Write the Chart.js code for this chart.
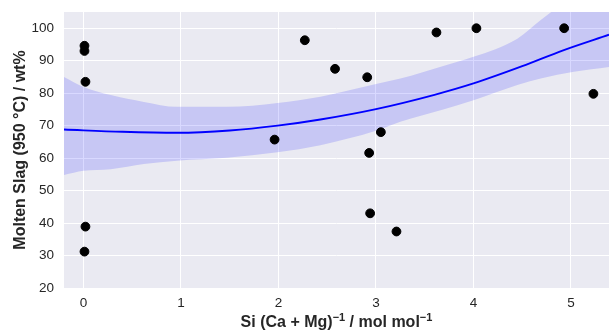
<!DOCTYPE html>
<html>
<head>
<meta charset="utf-8">
<script src="https://cdn.jsdelivr.net/npm/chart.js@4"></script>
<style>
  body { margin:0; background:#fff; }
  #wrap { width:609px; height:331px; }
</style>
</head>
<body>
<div id="wrap"><canvas id="chart" width="609" height="331"></canvas></div>
<script>
// molten slag vs Si/(Ca+Mg), quadratic fit with confidence band
const ptsX = [0.01, 0.01, 0.02, 0.02, 0.01, 1.96, 2.27, 2.58, 2.91, 2.93, 3.05, 2.94, 3.21, 3.62, 4.03, 4.93, 5.23];
const ptsY = [94.6, 93.0, 83.5, 38.9, 31.2, 65.7, 96.3, 87.5, 84.9, 61.6, 68.0, 43.0, 37.4, 98.7, 100.0, 100.0, 79.8];

const fitX = [-0.2, 0.4, 0.96, 1.5, 1.99, 2.43, 3.0, 3.6, 4.0, 4.5, 4.92, 5.39];
const fitY = [68.8, 68.1, 67.8, 68.5, 70.0, 71.9, 75.1, 79.5, 83.0, 88.3, 93.2, 98.0];

const bandX = [-0.2, 0.0, 0.28, 0.62, 0.96, 1.47, 1.99, 2.43, 3.0, 3.25, 3.69, 4.0, 4.45, 4.69, 5.03, 5.39];
const bandHi = [85.0, 81.9, 79.4, 77.3, 75.8, 75.8, 77.0, 78.9, 82.8, 84.5, 88.4, 91.2, 96.8, 102.5, 110, 115];
const bandLo = [54.8, 56.1, 56.6, 58.2, 59.2, 60.1, 61.8, 64.0, 68.4, 71.2, 75.0, 77.8, 82.5, 84.5, 86.6, 88.1];

const xTicks = [0, 1, 2, 3, 4, 5];
const yTicks = [20, 30, 40, 50, 60, 70, 80, 90, 100];

const xy = (xs, ys) => xs.map((x, i) => ({x: x, y: ys[i]}));

const family = '"Liberation Sans", Arial, sans-serif';

const bgPlugin = {
  id: 'bg',
  beforeDraw(c){
    const a = c.chartArea, ctx = c.ctx;
    ctx.save();
    ctx.fillStyle = '#eaeaf2';
    ctx.fillRect(a.left, a.top, a.right - a.left, a.bottom - a.top);
    ctx.restore();
  },
  afterDraw(c){
    // x axis title, with real superscripts, centred under the plot
    const ctx = c.ctx, a = c.chartArea;
    const parts = [['Si (Ca + Mg)', false], ['\u22121', true], [' / mol mol', false], ['\u22121', true]];
    const big = 'bold 16px ' + family, small = 'bold 11px ' + family;
    ctx.save();
    ctx.fillStyle = '#262626';
    ctx.textBaseline = 'alphabetic';
    let w = 0;
    parts.forEach(p => { ctx.font = p[1] ? small : big; w += ctx.measureText(p[0]).width; });
    let x = (a.left + a.right) / 2 - w / 2;
    const base = 327;
    parts.forEach(p => {
      ctx.font = p[1] ? small : big;
      ctx.fillText(p[0], x, p[1] ? base - 6.5 : base);
      x += ctx.measureText(p[0]).width;
    });
    ctx.restore();
  }
};

const tickFont = {family: family, size: 13.5};

new Chart(document.getElementById('chart'), {
  type: 'scatter',
  data: {
    datasets: [
      {data: xy(ptsX, ptsY), backgroundColor: '#000', borderColor: '#000', pointRadius: 4.4, pointHoverRadius: 4.4},
      {data: xy(fitX, fitY), showLine: true, borderColor: '#0000ff', borderWidth: 1.9, pointRadius: 0, cubicInterpolationMode: 'monotone'},
      {data: xy(bandX, bandHi), showLine: true, borderWidth: 0, borderColor: 'rgba(0,0,0,0)', pointRadius: 0, fill: '+1', backgroundColor: 'rgba(0,0,255,0.15)', cubicInterpolationMode: 'monotone'},
      {data: xy(bandX, bandLo), showLine: true, borderWidth: 0, borderColor: 'rgba(0,0,0,0)', pointRadius: 0, fill: false, cubicInterpolationMode: 'monotone'}
    ]
  },
  options: {
    responsive: false,
    animation: false,
    layout: {autoPadding: false, padding: {top: 12, right: 0, left: 0, bottom: 0}},
    plugins: {legend: {display: false}, tooltip: {enabled: false}},
    scales: {
      x: {
        min: -0.2, max: 5.39,
        afterBuildTicks: s => { s.ticks = xTicks.map(v => ({value: v})); },
        afterFit: s => { s.height = 43; s.paddingLeft = 0; s.paddingRight = 0; },
        grid: {color: '#ffffff', lineWidth: 1, drawTicks: false},
        border: {display: false},
        ticks: {color: '#262626', font: tickFont, padding: 7}
      },
      y: {
        min: 20, max: 105,
        afterBuildTicks: s => { s.ticks = yTicks.map(v => ({value: v})); },
        afterFit: s => { s.width = 64; s.paddingTop = 0; s.paddingBottom = 0; },
        grid: {color: '#ffffff', lineWidth: 1, drawTicks: false},
        border: {display: false},
        ticks: {color: '#262626', font: tickFont, padding: 10},
        title: {display: true, text: 'Molten Slag (950 \u00B0C) / wt%', color: '#262626',
                font: {family: family, size: 16, weight: 'bold'}, padding: {top: 11, bottom: 0}}
      }
    }
  },
  plugins: [bgPlugin]
});
</script>
</body>
</html>
